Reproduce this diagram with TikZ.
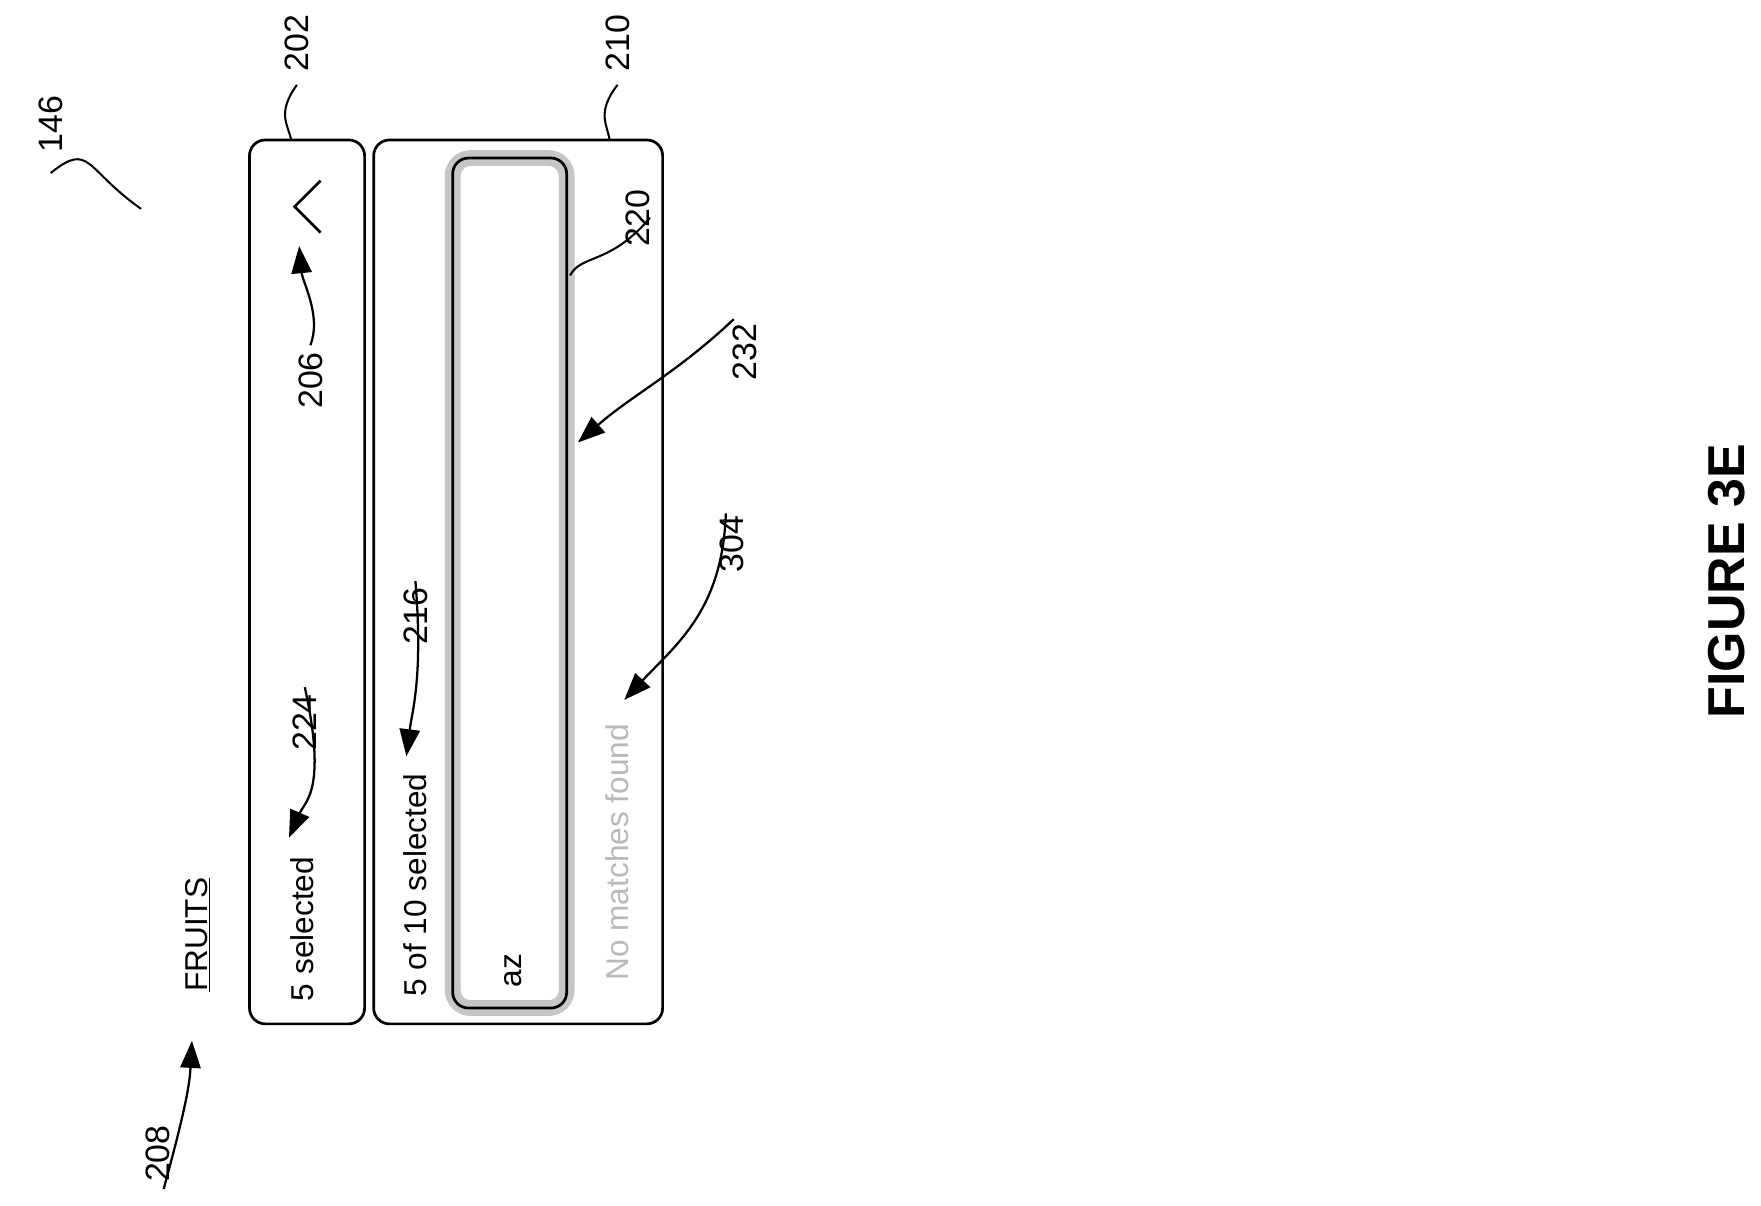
\documentclass[tikz,border=0pt]{standalone}
\usepackage{fontspec}
\setmainfont{Liberation Sans}
\usetikzlibrary{arrows.meta}
\begin{document}
\begin{tikzpicture}[x=1pt,y=-1pt,
  lbl/.style={rotate=90,font=\fontsize{30}{30}\selectfont,inner sep=0},
  ui/.style={rotate=90,font=\fontsize{28}{28}\selectfont,inner sep=0},
  box/.style={draw,line width=2.4pt,rounded corners=14pt},
  arr/.style={line width=2pt,-{Triangle[length=24pt,width=18pt]}},
  lead/.style={line width=1.8pt}]
\useasboundingbox (0,0) rectangle (1560,1068);
\fill[white] (0,0) rectangle (1560,1068);
% boxes
\draw[box] (221,124) rectangle (323,907);
\draw[box] (331,124) rectangle (587,907);
\draw[rounded corners=16pt,line width=14pt,gray!45] (401,140) rectangle (502,893);
\draw[box] (401,140) rectangle (502,893);
% chevron
\draw[line width=2.4pt] (284,160) -- (261,183) -- (284,206);
% texts
\node[ui] (fruits) at (175,828) {\underline{FRUITS}};
\node[ui] (sel) at (268,823) {5 selected};
\node[ui] (sel10) at (368,784) {5 of 10 selected};
\node[ui] (az) at (455,860) {az};
\node[ui,text=gray!55] (nomatch) at (547,755) {No matches found};
\node[rotate=90,font=\bfseries\fontsize{46}{46}\selectfont] (fig) at (1530,515) {FIGURE 3E};
% reference labels
\node[lbl] (l146) at (45,110) {146};
\node[lbl] (l202) at (263,38) {202};
\node[lbl] (l210) at (547,38) {210};
\node[lbl] (l206) at (275,337) {206};
\node[lbl] (l220) at (565,193) {220};
\node[lbl] (l232) at (660,312) {232};
\node[lbl] (l304) at (648,482) {304};
\node[lbl] (l216) at (368,546) {216};
\node[lbl] (l224) at (270,640) {224};
\node[lbl] (l208) at (140,1022) {208};
\coordinate (c146) at (125,185);
\coordinate (c202) at (258,124);
\coordinate (c210) at (540,124);
\coordinate (c220) at (505,244);
\coordinate (t206) at (265,218);
\coordinate (t232) at (512,392);
\coordinate (t304) at (553,620);
\coordinate (t216) at (360,670);
\coordinate (t224) at (256,742);
\coordinate (t208) at (170,922);
% leaders
\draw[lead] (l146.west) ++(0,18) .. controls (80,125) and (75,150) .. (c146);
\draw[lead] (l202.west) ++(0,12) .. controls (245,100) and (255,110) .. (c202);
\draw[lead] (l210.west) ++(0,12) .. controls (528,100) and (538,110) .. (c210);
\draw[lead] (c220) .. controls (515,225) and (540,235) .. (l220.south) ++(0,8);
\draw[arr] (l206.east) ++(0,-6) .. controls (285,280) and (268,250) .. (t206);
\draw[arr] (l232.east) ++(-10,-4) .. controls (600,330) and (560,350) .. (t232);
\draw[arr] (l304.east) ++(-5,-2) .. controls (640,540) and (600,570) .. (t304);
\draw[arr] (l216.east) ++(0,-6) .. controls (375,600) and (365,630) .. (t216);
\draw[arr] (l224.east) ++(0,-6) .. controls (290,700) and (270,710) .. (t224);
\draw[arr] (l208.west) ++(5,6) .. controls (165,980) and (168,960) .. (t208);
\end{tikzpicture}
\end{document}
